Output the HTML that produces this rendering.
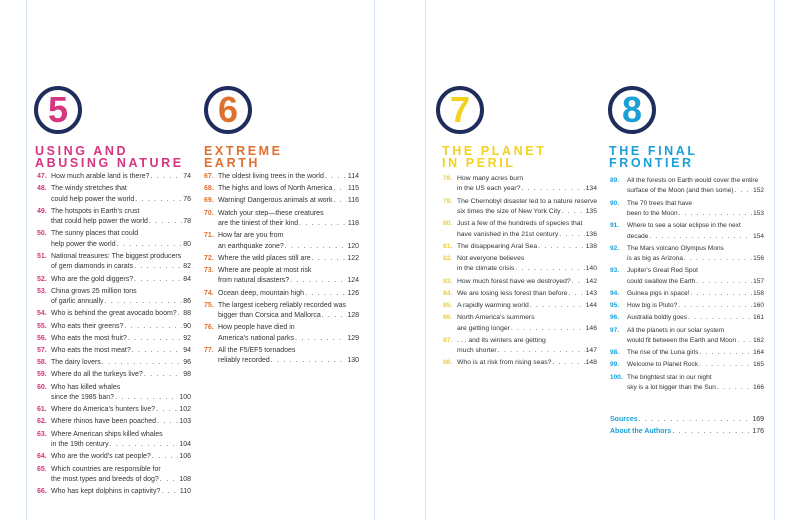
<!DOCTYPE html>
<html><head><meta charset="utf-8"><style>
*{margin:0;padding:0;box-sizing:border-box}
body{width:800px;height:520px;background:#fff;position:relative;overflow:hidden;font-family:"Liberation Sans",sans-serif;color:#333}
.vl{position:absolute;top:0;height:520px;width:1px;background:#d5e3f0}
.circ{position:absolute;width:48px;height:48px;border:4px solid #1f2d5c;border-radius:50%;text-align:center;font:bold 36px/40px "Liberation Sans",sans-serif}
.h{position:absolute;font:bold 12.5px/12px "Liberation Sans",sans-serif;letter-spacing:2.6px}
.col{position:absolute;font-size:7px;line-height:10.4px}
.e{display:flex;margin-bottom:1.8px}
.n{font-weight:bold;width:14px;flex:none}
.t{flex:1;min-width:0;white-space:nowrap}
.l{display:flex;white-space:nowrap}
.l i{flex:1;overflow:hidden;font-style:normal;letter-spacing:1.2px;margin:0 1px}
.l i:before{content:". . . . . . . . . . . . . . . . . . . . . . . . . . . . . . . . . . . . . . . . . . . . . . . . . . . . . . . . . . . . . . . . . . . . . ."}
.l b{font-weight:normal}
.c1 .n{color:#d6357f}.c2 .n{color:#e07030}.c3 .n{color:#f2d21e}.c4 .n{color:#1a9fd8}
</style></head><body>
<div class="vl" style="left:26px"></div>
<div class="vl" style="left:374px"></div>
<div class="vl" style="left:425px"></div>
<div class="vl" style="left:774px"></div>

<div class="circ" style="left:34px;top:86px;color:#d6357f">5</div>
<div class="circ" style="left:204px;top:86px;color:#e07030">6</div>
<div class="circ" style="left:436px;top:86px;color:#f2d21e">7</div>
<div class="circ" style="left:608px;top:86px;color:#1a9fd8">8</div>

<div class="h" style="left:35px;top:145px;color:#d6357f">USING AND<br>ABUSING NATURE</div>
<div class="h" style="left:204px;top:145px;color:#e07030">EXTREME<br>EARTH</div>
<div class="h" style="left:442px;top:145px;color:#f2d21e">THE PLANET<br>IN PERIL</div>
<div class="h" style="left:609px;top:145px;color:#1a9fd8">THE FINAL<br>FRONTIER</div>

<div class="col c1" style="left:37px;top:172px;width:154px">
<div class="e"><span class="n">47.</span><div class="t"><span class="l"><span>How much arable land is there?</span><i></i><b>74</b></span></div></div>
<div class="e"><span class="n">48.</span><div class="t">The windy stretches that<span class="l"><span>could help power the world</span><i></i><b>76</b></span></div></div>
<div class="e"><span class="n">49.</span><div class="t">The hotspots in Earth's crust<span class="l"><span>that could help power the world</span><i></i><b>78</b></span></div></div>
<div class="e"><span class="n">50.</span><div class="t">The sunny places that could<span class="l"><span>help power the world</span><i></i><b>80</b></span></div></div>
<div class="e"><span class="n">51.</span><div class="t">National treasures: The biggest producers<span class="l"><span>of gem diamonds in carats</span><i></i><b>82</b></span></div></div>
<div class="e"><span class="n">52.</span><div class="t"><span class="l"><span>Who are the gold diggers?</span><i></i><b>84</b></span></div></div>
<div class="e"><span class="n">53.</span><div class="t">China grows 25 million tons<span class="l"><span>of garlic annually</span><i></i><b>86</b></span></div></div>
<div class="e"><span class="n">54.</span><div class="t"><span class="l"><span>Who is behind the great avocado boom?</span><i></i><b>88</b></span></div></div>
<div class="e"><span class="n">55.</span><div class="t"><span class="l"><span>Who eats their greens?</span><i></i><b>90</b></span></div></div>
<div class="e"><span class="n">56.</span><div class="t"><span class="l"><span>Who eats the most fruit?</span><i></i><b>92</b></span></div></div>
<div class="e"><span class="n">57.</span><div class="t"><span class="l"><span>Who eats the most meat?</span><i></i><b>94</b></span></div></div>
<div class="e"><span class="n">58.</span><div class="t"><span class="l"><span>The dairy lovers</span><i></i><b>96</b></span></div></div>
<div class="e"><span class="n">59.</span><div class="t"><span class="l"><span>Where do all the turkeys live?</span><i></i><b>98</b></span></div></div>
<div class="e"><span class="n">60.</span><div class="t">Who has killed whales<span class="l"><span>since the 1985 ban?</span><i></i><b>100</b></span></div></div>
<div class="e"><span class="n">61.</span><div class="t"><span class="l"><span>Where do America's hunters live?</span><i></i><b>102</b></span></div></div>
<div class="e"><span class="n">62.</span><div class="t"><span class="l"><span>Where rhinos have been poached</span><i></i><b>103</b></span></div></div>
<div class="e"><span class="n">63.</span><div class="t">Where American ships killed whales<span class="l"><span>in the 19th century</span><i></i><b>104</b></span></div></div>
<div class="e"><span class="n">64.</span><div class="t"><span class="l"><span>Who are the world's cat people?</span><i></i><b>106</b></span></div></div>
<div class="e"><span class="n">65.</span><div class="t">Which countries are responsible for<span class="l"><span>the most types and breeds of dog?</span><i></i><b>108</b></span></div></div>
<div class="e"><span class="n">66.</span><div class="t"><span class="l"><span>Who has kept dolphins in captivity?</span><i></i><b>110</b></span></div></div>
</div>

<div class="col c2" style="left:204px;top:172px;width:155px">
<div class="e"><span class="n">67.</span><div class="t"><span class="l"><span>The oldest living trees in the world</span><i></i><b>114</b></span></div></div>
<div class="e"><span class="n">68.</span><div class="t"><span class="l"><span>The highs and lows of North America</span><i></i><b>115</b></span></div></div>
<div class="e"><span class="n">69.</span><div class="t"><span class="l"><span>Warning! Dangerous animals at work</span><i></i><b>116</b></span></div></div>
<div class="e"><span class="n">70.</span><div class="t">Watch your step—these creatures<span class="l"><span>are the tiniest of their kind</span><i></i><b>118</b></span></div></div>
<div class="e"><span class="n">71.</span><div class="t">How far are you from<span class="l"><span>an earthquake zone?</span><i></i><b>120</b></span></div></div>
<div class="e"><span class="n">72.</span><div class="t"><span class="l"><span>Where the wild places still are</span><i></i><b>122</b></span></div></div>
<div class="e"><span class="n">73.</span><div class="t">Where are people at most risk<span class="l"><span>from natural disasters?</span><i></i><b>124</b></span></div></div>
<div class="e"><span class="n">74.</span><div class="t"><span class="l"><span>Ocean deep, mountain high</span><i></i><b>126</b></span></div></div>
<div class="e"><span class="n">75.</span><div class="t">The largest iceberg reliably recorded was<span class="l"><span>bigger than Corsica and Mallorca</span><i></i><b>128</b></span></div></div>
<div class="e"><span class="n">76.</span><div class="t">How people have died in<span class="l"><span>America's national parks</span><i></i><b>129</b></span></div></div>
<div class="e"><span class="n">77.</span><div class="t">All the F5/EF5 tornadoes<span class="l"><span>reliably recorded</span><i></i><b>130</b></span></div></div>
</div>

<div class="col c3" style="left:443px;top:174px;width:154px;font-size:6.8px">
<div class="e"><span class="n">78.</span><div class="t">How many acres burn<span class="l"><span>in the US each year?</span><i></i><b>134</b></span></div></div>
<div class="e"><span class="n">79.</span><div class="t">The Chernobyl disaster led to a nature reserve<span class="l"><span>six times the size of New York City</span><i></i><b>135</b></span></div></div>
<div class="e"><span class="n">80.</span><div class="t">Just a few of the hundreds of species that<span class="l"><span>have vanished in the 21st century</span><i></i><b>136</b></span></div></div>
<div class="e"><span class="n">81.</span><div class="t"><span class="l"><span>The disappearing Aral Sea</span><i></i><b>138</b></span></div></div>
<div class="e"><span class="n">82.</span><div class="t">Not everyone believes<span class="l"><span>in the climate crisis</span><i></i><b>140</b></span></div></div>
<div class="e"><span class="n">83.</span><div class="t"><span class="l"><span>How much forest have we destroyed?</span><i></i><b>142</b></span></div></div>
<div class="e"><span class="n">84.</span><div class="t"><span class="l"><span>We are losing less forest than before</span><i></i><b>143</b></span></div></div>
<div class="e"><span class="n">85.</span><div class="t"><span class="l"><span>A rapidly warming world</span><i></i><b>144</b></span></div></div>
<div class="e"><span class="n">86.</span><div class="t">North America's summers<span class="l"><span>are getting longer</span><i></i><b>146</b></span></div></div>
<div class="e"><span class="n">87.</span><div class="t">. . . and its winters are getting<span class="l"><span>much shorter</span><i></i><b>147</b></span></div></div>
<div class="e"><span class="n">88.</span><div class="t"><span class="l"><span>Who is at risk from rising seas?</span><i></i><b>148</b></span></div></div>
</div>

<div class="col c4" style="left:610px;top:176px;width:154px;font-size:6.5px">
<div class="e"><span class="n" style="width:17px">89.</span><div class="t">All the forests on Earth would cover the entire<span class="l"><span>surface of the Moon (and then some)</span><i></i><b>152</b></span></div></div>
<div class="e"><span class="n" style="width:17px">90.</span><div class="t">The 70 trees that have<span class="l"><span>been to the Moon</span><i></i><b>153</b></span></div></div>
<div class="e"><span class="n" style="width:17px">91.</span><div class="t">Where to see a solar eclipse in the next<span class="l"><span>decade</span><i></i><b>154</b></span></div></div>
<div class="e"><span class="n" style="width:17px">92.</span><div class="t">The Mars volcano Olympus Mons<span class="l"><span>is as big as Arizona</span><i></i><b>156</b></span></div></div>
<div class="e"><span class="n" style="width:17px">93.</span><div class="t">Jupiter's Great Red Spot<span class="l"><span>could swallow the Earth</span><i></i><b>157</b></span></div></div>
<div class="e"><span class="n" style="width:17px">94.</span><div class="t"><span class="l"><span>Guinea pigs in space!</span><i></i><b>158</b></span></div></div>
<div class="e"><span class="n" style="width:17px">95.</span><div class="t"><span class="l"><span>How big is Pluto?</span><i></i><b>160</b></span></div></div>
<div class="e"><span class="n" style="width:17px">96.</span><div class="t"><span class="l"><span>Australia boldly goes</span><i></i><b>161</b></span></div></div>
<div class="e"><span class="n" style="width:17px">97.</span><div class="t">All the planets in our solar system<span class="l"><span>would fit between the Earth and Moon</span><i></i><b>162</b></span></div></div>
<div class="e"><span class="n" style="width:17px">98.</span><div class="t"><span class="l"><span>The rise of the Luna girls</span><i></i><b>164</b></span></div></div>
<div class="e"><span class="n" style="width:17px">99.</span><div class="t"><span class="l"><span>Welcome to Planet Rock</span><i></i><b>165</b></span></div></div>
<div class="e"><span class="n" style="width:17px">100.</span><div class="t">The brightest star in our night<span class="l"><span>sky is a lot bigger than the Sun</span><i></i><b>166</b></span></div></div>
</div>

<div class="col" style="left:610px;top:415px;width:154px">
<div class="e"><div class="t"><span class="l"><span style="color:#1a9fd8;font-weight:bold">Sources</span><i></i><b>169</b></span></div></div>
<div class="e"><div class="t"><span class="l"><span style="color:#1a9fd8;font-weight:bold">About the Authors</span><i></i><b>176</b></span></div></div>
</div>
</body></html>
